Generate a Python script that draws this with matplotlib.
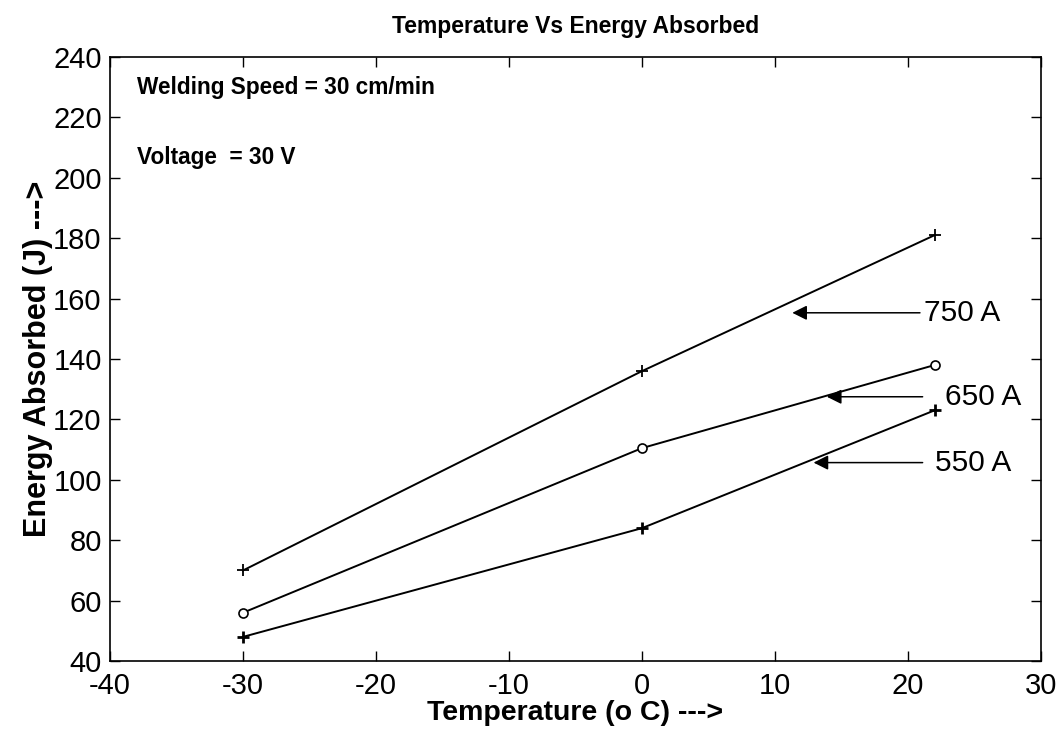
import numpy as np
import matplotlib
matplotlib.use('Agg')
import matplotlib.pyplot as plt

plt.rcParams['font.family'] = ['Liberation Sans', 'DejaVu Sans']
plt.rcParams['axes.unicode_minus'] = False

# temperatura de ensayo (oC) y energia absorbida (J) por corriente
temp = [-30, 0, 22]
e750 = [70, 136, 181]
e650 = [56, 110.5, 138]
e550 = [48, 84, 123]

etiquetas = ['750 A', '650 A', '550 A']
# punta de flecha (x, y), inicio de flecha x, texto x
flechas = [(11.3, 155.3, 20.9, 21.2),
           (13.9, 127.5, 21.1, 22.8),
           (12.9, 105.7, 21.1, 22.0)]

fig = plt.figure(figsize=(10.63, 7.39), dpi=100)
ax = fig.add_axes([0.1035, 0.1055, 0.8758, 0.8174])

ax.plot(temp, e750, color='black', lw=1.4, marker='+', ms=9, mew=1.3)
ax.plot(temp, e650, color='black', lw=1.4, marker='o', ms=6.5, mfc='white', mew=1.2)
ax.plot(temp, e550, color='black', lw=1.4, marker='+', ms=8, mew=2)

for txt, (hx, hy, tx, lx) in zip(etiquetas, flechas):
    ax.annotate('', xy=(hx, hy), xytext=(tx, hy),
                arrowprops=dict(arrowstyle='-|>', color='black', lw=1.1,
                                mutation_scale=22, shrinkA=0, shrinkB=0))
    ax.text(lx, hy, txt, fontsize=21.5, va='center', ha='left')

ax.text(-38.0, 229.8, 'Welding Speed = 30 cm/min', fontsize=16.3, fontweight='bold', va='center')
ax.text(-38.0, 206.8, 'Voltage  = 30 V', fontsize=16.3, fontweight='bold', va='center')

ax.set_xlim(-40, 30)
ax.set_ylim(40, 240)
ax.set_xticks(np.arange(-40, 31, 10))
ax.set_yticks(np.arange(40, 241, 20))
ax.tick_params(direction='in', top=True, right=True, labelsize=21, length=7, width=1)
ax.tick_params(axis='x', pad=8)
ax.tick_params(axis='y', pad=6)
for s in ax.spines.values():
    s.set_linewidth(1.2)

ax.set_title('Temperature Vs Energy Absorbed', fontsize=16.5, fontweight='bold', pad=17)
ax.set_xlabel('Temperature (o C) --->', fontsize=20.5, fontweight='bold', labelpad=0)
ax.set_ylabel('Energy Absorbed (J) --->', fontsize=22, fontweight='bold', labelpad=0)

fig.savefig('out.png', dpi=100)
